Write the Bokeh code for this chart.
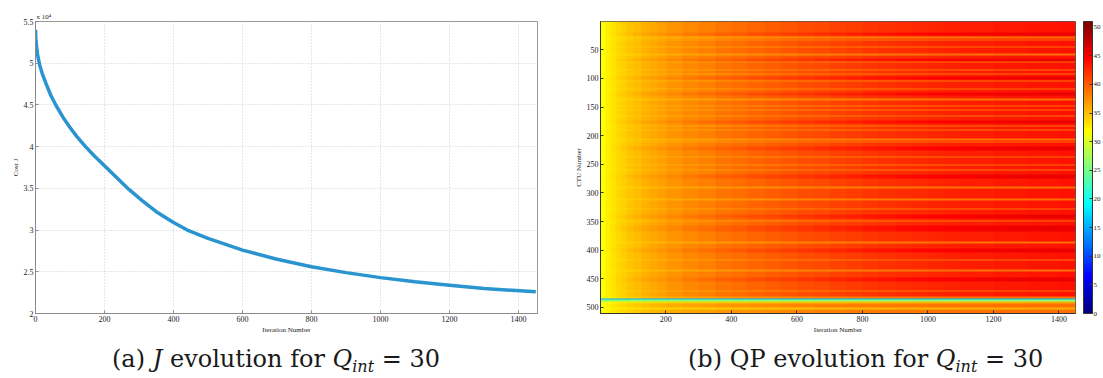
import numpy as np
from bokeh.plotting import figure
from bokeh.models import Range1d, LinearColorMapper, ColorBar, FixedTicker, Div
from bokeh.layouts import row, column
from bokeh.embed import file_html
from bokeh.resources import INLINE

# ---------------- data: (a) cost J (x 10^4) vs iteration ----------------
iterations = [0, 1, 3, 6, 12, 20, 30, 45, 60, 80, 100, 120, 145, 170, 200, 235, 270,
              310, 350, 400, 440, 500, 600, 700, 800, 900, 1000, 1100, 1200, 1300, 1450]
cost_j = [5.40, 5.30, 5.20, 5.10, 4.98, 4.87, 4.76, 4.61, 4.49, 4.35, 4.23, 4.12, 4.00,
          3.89, 3.77, 3.63, 3.49, 3.35, 3.22, 3.09, 3.00, 2.90, 2.76, 2.65, 2.56, 2.49,
          2.43, 2.38, 2.34, 2.30, 2.26]
x_ticks_a = [0, 200, 400, 600, 800, 1000, 1200, 1400]
y_ticks_a = [2, 2.5, 3, 3.5, 4, 4.5, 5, 5.5]

# ---------------- data: (b) QP per CTU vs iteration ----------------
n_ctu = 510
n_iter = 1450
bin_edges = [0, 15, 30, 45, 60, 80, 100, 125, 150, 175, 200, 250, 300, 350, 400, 450,
             500, 550, 600, 650, 700, 750, 800, 850, 900, 950, 1000, 1050, 1100, 1150,
             1200, 1250, 1300, 1350, 1400, 1450]
qp_red = [31.8, 32.5, 33.2, 33.7, 34.2, 34.7, 35.2, 35.7, 36.2, 36.6, 37.1,
          37.7, 38.2, 38.7, 39.1, 39.5, 39.9, 40.3, 40.7, 41.0, 41.3, 41.6, 41.9,
          42.2, 42.4, 42.6, 42.8, 43.0, 43.1, 43.2, 43.3, 43.4, 43.5, 43.6, 43.7]
qp_orange = [31.8, 32.4, 32.9, 33.3, 33.7, 34.1, 34.5, 34.9, 35.3, 35.6, 35.9,
             36.3, 36.6, 36.9, 37.2, 37.4, 37.6, 37.8, 37.95, 38.1, 38.2, 38.3, 38.4,
             38.5, 38.55, 38.6, 38.65, 38.7, 38.75, 38.8, 38.85, 38.9, 38.95, 39.0, 39.0]
qp_dark = [31.8, 32.6, 33.4, 34.0, 34.6, 35.2, 35.8, 36.3, 36.8, 37.2, 37.8,
           38.5, 39.1, 39.7, 40.2, 40.7, 41.2, 41.6, 42.0, 42.4, 42.8, 43.2, 43.5,
           43.8, 44.1, 44.4, 44.6, 44.8, 45.0, 45.1, 45.2, 45.3, 45.4, 45.5, 45.6]
qp_yellow = [31.5, 32, 32.4, 32.7, 33, 33.2, 33.4, 33.6, 33.8, 34, 34.2,
             34.3, 34.4, 34.5, 34.6, 34.7, 34.8, 34.9, 35.0, 35.1, 35.2, 35.3, 35.4,
             35.45, 35.5, 35.55, 35.6, 35.65, 35.7, 35.75, 35.8, 35.85, 35.9, 35.95, 36]
qp_blue = [15] * 35
qp_green = [26] * 35
orange_bands = [(28, 30), (32, 33), (44, 45), (57, 59), (71, 72), (84, 85),
                (92, 93), (104, 105), (118, 119), (136, 138), (147, 149), (154, 155),
                (165, 166), (183, 184), (190, 191), (206, 208), (211, 212), (236, 237),
                (250, 251), (259, 260), (290, 292), (311, 312), (328, 329), (349, 350),
                (386, 387), (416, 417), (435, 436), (470, 471), (481, 484), (494, 500),
                (504, 510)]
dark_bands = [(20, 24), (65, 69), (97, 101), (125, 130), (174, 178), (220, 226),
              (268, 274), (338, 344), (358, 366), (398, 404), (448, 454)]
yellow_bands = [(490, 493), (501, 503)]
blue_bands = [(485, 486)]
green_bands = [(487, 489)]
x_ticks_b = [200, 400, 600, 800, 1000, 1200, 1400]
y_ticks_b = [50, 100, 150, 200, 250, 300, 350, 400, 450, 500]
cbar_ticks = [0, 5, 10, 15, 20, 25, 30, 35, 40, 45, 50]

# ---------------- build QP matrix ----------------
step = 5
col_start = np.arange(0, n_iter, step)
bin_idx = np.searchsorted(bin_edges, col_start, side="right") - 1
qp = np.tile(np.array(qp_red)[bin_idx], (n_ctu, 1))
for bands, prof in [(orange_bands, qp_orange), (dark_bands, qp_dark),
                    (yellow_bands, qp_yellow), (blue_bands, qp_blue),
                    (green_bands, qp_green)]:
    cols = np.array(prof)[bin_idx]
    for s, e in bands:
        qp[s - 1:e, :] = cols
qp = qp.astype(np.float32)

# jet palette
jet = []
for i in range(256):
    f = i / 255.0
    r = min(max(1.5 - abs(4 * f - 3), 0), 1)
    g = min(max(1.5 - abs(4 * f - 2), 0), 1)
    b = min(max(1.5 - abs(4 * f - 1), 0), 1)
    jet.append("#%02x%02x%02x" % (int(r * 255), int(g * 255), int(b * 255)))

SERIF = "Liberation Serif"
TXT = "#222222"

def style_axes(p, tick_color):
    for ax in (p.xaxis[0], p.yaxis[0]):
        ax.major_label_text_font = SERIF
        ax.major_label_text_font_size = "8px"
        ax.major_label_text_color = TXT
        ax.axis_label_text_font = SERIF
        ax.axis_label_text_font_size = "7px"
        ax.axis_label_text_font_style = "normal"
        ax.axis_label_text_color = TXT
        ax.major_tick_in = 3
        ax.major_tick_out = 0
        ax.minor_tick_line_color = None
        ax.major_tick_line_color = tick_color
        ax.axis_line_color = tick_color
        ax.major_label_standoff = 2
        ax.axis_label_standoff = 1

# ---------------- figure (a) ----------------
p1 = figure(frame_width=502, frame_height=292, output_backend="svg", toolbar_location=None,
            x_range=Range1d(0, 1455), y_range=Range1d(2, 5.5),
            min_border_left=35, min_border_right=23, min_border_top=21,
            min_border_bottom=24)
p1.line(iterations, cost_j, line_width=3.5, color="#2a94d0")
p1.xaxis.ticker = FixedTicker(ticks=x_ticks_a)
p1.yaxis.ticker = FixedTicker(ticks=y_ticks_a)
p1.yaxis.major_label_overrides = {t: ("%g" % t) for t in y_ticks_a}
p1.xaxis.axis_label = "Iteration Number"
p1.yaxis.axis_label = "Cost J"
style_axes(p1, "#8a8a8a")
p1.xgrid.grid_line_color = "#cfcfcf"
p1.ygrid.grid_line_color = "#cfcfcf"
p1.xgrid.grid_line_dash = "1 2"
p1.ygrid.grid_line_dash = "1 2"
p1.outline_line_color = "#9a9a9a"
p1.title.text = "x 10⁴"
p1.title.text_font = SERIF
p1.title.text_font_size = "7px"
p1.title.text_font_style = "normal"
p1.title.text_color = TXT
p1.title.align = "left"
p1.title.offset = 1
p1.title.standoff = 1

# ---------------- figure (b) ----------------
mapper = LinearColorMapper(palette=jet, low=0, high=51)
p2 = figure(frame_width=475, frame_height=292, output_backend="svg", toolbar_location=None,
            x_range=Range1d(0.5, n_iter + 0.5), y_range=Range1d(n_ctu + 0.5, 0.5),
            min_border_left=40, min_border_right=28, min_border_top=21,
            min_border_bottom=24)
p2.image(image=[qp], x=0.5, y=0.5, dw=n_iter, dh=n_ctu, color_mapper=mapper)
p2.xaxis.ticker = FixedTicker(ticks=x_ticks_b)
p2.yaxis.ticker = FixedTicker(ticks=y_ticks_b)
p2.xaxis.axis_label = "Iteration Number"
p2.yaxis.axis_label = "CTU Number"
style_axes(p2, "#333333")
p2.grid.visible = False
p2.outline_line_color = "#555555"
cb = ColorBar(color_mapper=mapper, ticker=FixedTicker(ticks=cbar_ticks), width=9,
              padding=0, margin=0, location=(8, 0), label_standoff=1,
              major_label_text_font=SERIF,
              major_label_text_font_size="7px", major_label_text_color=TXT,
              major_tick_in=3, major_tick_out=0, major_tick_line_color="#333333",
              bar_line_color="#333333", minor_tick_line_color=None)
p2.add_layout(cb, "right")

# ---------------- captions ----------------
cap_style = ("font-family:'DejaVu Serif'; font-size:24px; line-height:28px; "
             "white-space:nowrap; color:#1a1a1a; padding-top:3px;")
sub = '<span style="font-size:16px; vertical-align:-5px; line-height:16px"><i>int</i></span>'
div_a = Div(width=560, height=39,
            text='<div style="%s padding-left:107px;">(a) <i>J</i> evolution for '
                 '<i>Q</i>%s = 30</div>' % (cap_style, sub))
div_b = Div(width=543, height=39,
            text='<div style="%s padding-left:113px;">(b) QP evolution for '
                 '<i>Q</i>%s = 30</div>' % (cap_style, sub))

layout = column(row(p1, p2), row(div_a, div_b))
open("out.html", "w").write(file_html(layout, INLINE))
